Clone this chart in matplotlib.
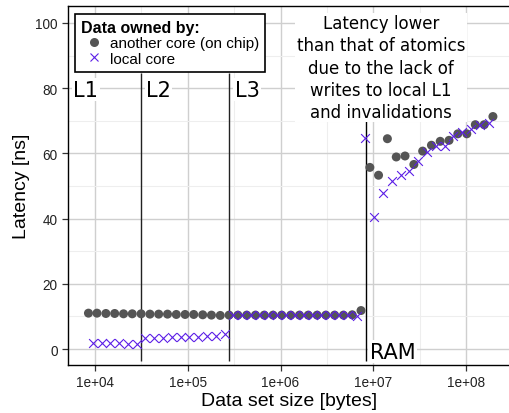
import matplotlib
matplotlib.use("Agg")
import matplotlib.pyplot as plt
from matplotlib.lines import Line2D
from matplotlib.ticker import FixedLocator, FuncFormatter, NullFormatter

# data set sizes [bytes]
remote_size = [8.5e3, 1.05e4, 1.31e4, 1.63e4, 2.03e4, 2.52e4, 3.14e4, 3.91e4, 4.86e4, 6.05e4,
               7.52e4, 9.36e4, 1.16e5, 1.45e5, 1.80e5, 2.24e5, 2.79e5, 3.47e5, 4.32e5, 5.37e5,
               6.68e5, 8.31e5, 1.03e6, 1.29e6, 1.60e6, 1.99e6, 2.48e6, 3.08e6, 3.83e6, 4.77e6,
               5.93e6, 7.38e6, 9.19e6, 1.14e7, 1.42e7, 1.77e7, 2.20e7, 2.74e7, 3.41e7, 4.24e7,
               5.27e7, 6.56e7, 8.16e7, 1.02e8, 1.26e8, 1.57e8, 1.95e8]
remote_lat = [11.0, 11.0, 10.9, 10.9, 10.8, 10.8, 10.8, 10.7, 10.7, 10.7,
              10.6, 10.6, 10.6, 10.5, 10.4, 10.3, 10.4, 10.4, 10.4, 10.4,
              10.4, 10.4, 10.4, 10.4, 10.4, 10.4, 10.4, 10.4, 10.4, 10.4,
              10.5, 11.8, 55.7, 53.3, 64.5, 58.9, 59.2, 56.6, 60.7, 62.5,
              63.7, 64.0, 66.0, 66.0, 68.8, 68.8, 71.3]

local_size = [9.44e3, 1.175e4, 1.46e4, 1.82e4, 2.26e4, 2.81e4, 3.50e4, 4.36e4, 5.42e4, 6.74e4,
              8.39e4, 1.04e5, 1.30e5, 1.62e5, 2.01e5, 2.50e5, 3.11e5, 3.87e5, 4.81e5, 5.99e5,
              7.45e5, 9.27e5, 1.15e6, 1.44e6, 1.79e6, 2.22e6, 2.76e6, 3.44e6, 4.28e6, 5.32e6,
              6.62e6, 8.24e6, 1.02e7, 1.27e7, 1.59e7, 1.97e7, 2.45e7, 3.05e7, 3.80e7, 4.73e7,
              5.88e7, 7.32e7, 9.10e7, 1.13e8, 1.41e8, 1.75e8]
local_lat = [1.9, 1.8, 1.7, 1.7, 1.6, 1.6, 3.4, 3.5, 3.5, 3.6,
             3.6, 3.7, 3.8, 3.9, 4.0, 4.5, 10.4, 10.4, 10.4, 10.4,
             10.4, 10.4, 10.4, 10.4, 10.4, 10.4, 10.4, 10.4, 10.4, 10.4,
             10.2, 64.7, 40.6, 47.7, 51.5, 53.5, 54.6, 57.6, 60.5, 62.2,
             62.2, 65.2, 66.6, 67.5, 68.6, 69.4]

cache_bounds = [3.1e4, 2.8e5]
ram_bound = 8.3e6
cache_names = ["L1", "L2", "L3"]
note = "Latency lower\nthan that of atomics\ndue to the lack of\nwrites to local L1\nand invalidations"

sans = "Liberation Sans"
grey = "#555555"
purple = "#5b1ee6"

fig = plt.figure(figsize=(5.1, 4.14), dpi=100)
ax = fig.add_axes([68 / 510, 48 / 414, 442 / 510, 359 / 414])

ax.set_xscale("log")
ax.set_xlim(5115, 2.98e8)
ax.set_ylim(-4.9, 105.2)

ax.xaxis.set_major_locator(FixedLocator([1e4, 1e5, 1e6, 1e7, 1e8]))
ax.xaxis.set_major_formatter(FuncFormatter(lambda v, p: f"{v:.0e}"))
ax.xaxis.set_minor_locator(FixedLocator([10 ** 4.5, 10 ** 5.5, 10 ** 6.5, 10 ** 7.5]))
ax.xaxis.set_minor_formatter(NullFormatter())
ax.set_yticks([0, 20, 40, 60, 80, 100])
ax.set_yticks([10, 30, 50, 70, 90], minor=True)

ax.grid(which="major", color="#cfcfcf", lw=1.0)
ax.grid(which="minor", color="#eeeeee", lw=0.8)
ax.set_axisbelow(True)
ax.tick_params(which="major", length=4, width=0.9, color="#333333",
               labelsize=9.8, labelcolor="#222222")
ax.tick_params(which="minor", length=0)
for lab in ax.get_xticklabels() + ax.get_yticklabels():
    lab.set_family(sans)

ax.spines["right"].set_visible(False)
for s in ["left", "bottom", "top"]:
    ax.spines[s].set_linewidth(1.0)
    ax.spines[s].set_color("black")

# cache boundaries
ax.vlines(cache_bounds, -3.8, 84.5, color="#222222", lw=1.0, zorder=2)
ax.vlines([ram_bound], -3.8, 78, color="black", lw=1.0, zorder=2)

ax.scatter(remote_size, remote_lat, s=42, color=grey, edgecolors="none", zorder=3)
ax.scatter(local_size, local_lat, s=40, marker="x", color=purple, linewidths=0.8, zorder=4)

lab_bg = dict(facecolor="white", edgecolor="none", pad=1)
label_x = [5.84e3] + cache_bounds
for x, name in zip(label_x, cache_names):
    off = 0 if name == "L1" else 4
    ax.annotate(name, (x, 77.7), xytext=(off, 0), textcoords="offset points",
                fontsize=15, family="DejaVu Sans", va="baseline", ha="left",
                bbox=lab_bg, zorder=5)
ax.annotate("RAM", (ram_bound, -2.6), xytext=(3, 0), textcoords="offset points",
            fontsize=15, family="DejaVu Sans", va="baseline", ha="left",
            bbox=lab_bg, zorder=5)
ax.text(1.21e7, 102.7, note, fontsize=12, family="DejaVu Sans", ha="center", va="top",
        multialignment="center", linespacing=1.3, bbox=lab_bg, zorder=5)

ax.set_xlabel("Data set size [bytes]", fontsize=14, family=sans, labelpad=2)
ax.set_ylabel("Latency [ns]", fontsize=14, family=sans, labelpad=4)

handles = [
    Line2D([], [], ls="none", marker="o", color=grey, markersize=6.5, markeredgewidth=0),
    Line2D([], [], ls="none", marker="x", color=purple, markersize=6.3, markeredgewidth=0.8),
]
leg = ax.legend(handles=handles, labels=["another core (on chip)", "local core"],
                title="Data owned by:", loc="upper left",
                bbox_to_anchor=(0.0158, 0.9777), borderaxespad=0,
                prop={"family": sans, "size": 11},
                title_fontproperties={"family": sans, "size": 11.5, "weight": "bold"},
                fancybox=False, framealpha=1, edgecolor="black",
                borderpad=0.4, handlelength=1.75, handletextpad=0.15,
                labelspacing=0.08, alignment="left")
leg.get_frame().set_linewidth(1.2)
leg.set_zorder(6)

fig.savefig("out.png", dpi=100)
